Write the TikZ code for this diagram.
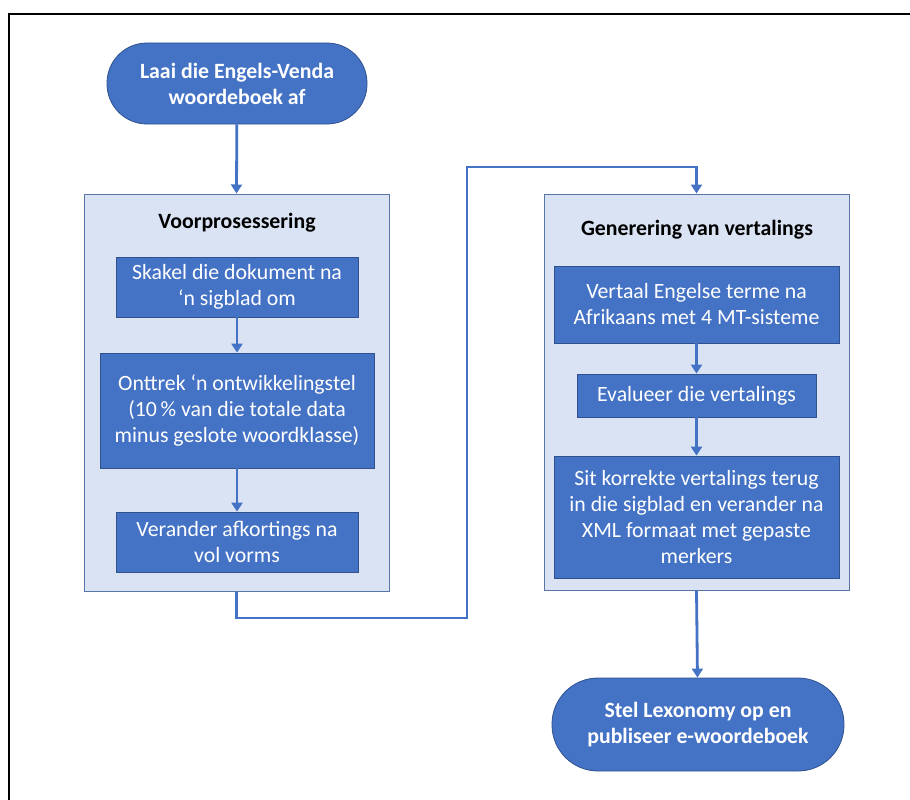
\documentclass[tikz,border=0pt]{standalone}
\usepackage{fontspec}
\setmainfont{Carlito}
\usetikzlibrary{arrows.meta}
\definecolor{msblue}{HTML}{4472C4}
\definecolor{msdark}{HTML}{2F528F}
\definecolor{mslight}{HTML}{DAE3F3}
\begin{document}
\begin{tikzpicture}[x=1pt,y=-1pt,
    font=\fontsize{21.8}{26}\selectfont,
    terminal/.style={draw=msdark,line width=0.8pt,fill=msblue,text=white,font=\fontsize{21.8}{26}\selectfont\bfseries,
      rounded corners=40pt,align=center,inner sep=0pt},
    stepbox/.style={draw=msdark,line width=0.8pt,fill=msblue,text=white,align=center,inner sep=0pt},
    panel/.style={draw=msdark!80,line width=1pt,fill=mslight,inner sep=0pt},
    paneltitle/.style={font=\fontsize{21.8}{26}\selectfont\bfseries,inner sep=0pt},
    flow/.style={draw=msblue,line width=2.8pt,-{Triangle[width=11pt,length=9pt]}}]
  \useasboundingbox (0,0) rectangle (910,800);
  \clip (0,0) rectangle (910,800);
  \draw[line width=2.5pt] (9,815) -- (9,14) -- (925,14);

  \node[terminal,minimum width=260,minimum height=81] (start) at (237,83.5) {Laai die Engels-Venda\\woordeboek af};

  % linker blok
  \node[panel,minimum width=305,minimum height=397] (voor) at (236.5,392.5) {};
  \node[paneltitle] (voortitel) at (237,223) {Voorprosessering};
  \node[stepbox,minimum width=242,minimum height=60] (skakel) at (237,287) {Skakel die dokument na\\`n sigblad om};
  \node[stepbox,minimum width=274,minimum height=115] (onttrek) at (237,410.5) {Onttrek `n ontwikkelingstel\\(10\,\% van die totale data\\minus geslote woordklasse)};
  \node[stepbox,minimum width=242,minimum height=60] (verander) at (237,542) {Verander afkortings na\\vol vorms};

  % regter blok
  \node[panel,minimum width=305,minimum height=396] (gen) at (696.5,392) {};
  \node[paneltitle] (gentitel) at (697,230) {Generering van vertalings};
  \node[stepbox,minimum width=285,minimum height=77] (vertaal) at (696.5,304.5) {Vertaal Engelse terme na\\Afrikaans met 4 MT-sisteme};
  \node[stepbox,minimum width=239,minimum height=43] (evalueer) at (696.5,395.5) {Evalueer die vertalings};
  \node[stepbox,minimum width=285,minimum height=122] (sit) at (696.5,517) {Sit korrekte vertalings terug\\in die sigblad en verander na\\XML formaat met gepaste\\merkers};

  \node[terminal,minimum width=292,minimum height=93,rounded corners=46pt] (einde) at (698,724.5) {Stel Lexonomy op en\\publiseer e-woordeboek};

  \coordinate (onder) at (467,618);
  \coordinate (bo) at (467,167);

  \draw[flow] (start) -- (voor.north);
  \draw[flow] (skakel) -- (onttrek);
  \draw[flow] (onttrek) -- (verander);
  \draw[flow,rounded corners=0pt] (voor.south) |- (onder) -- (bo) -| (gen.north);
  \draw[flow] (vertaal) -- (evalueer);
  \draw[flow] (evalueer) -- (sit);
  \draw[flow] (gen.south) -- (einde);
\end{tikzpicture}
\end{document}
